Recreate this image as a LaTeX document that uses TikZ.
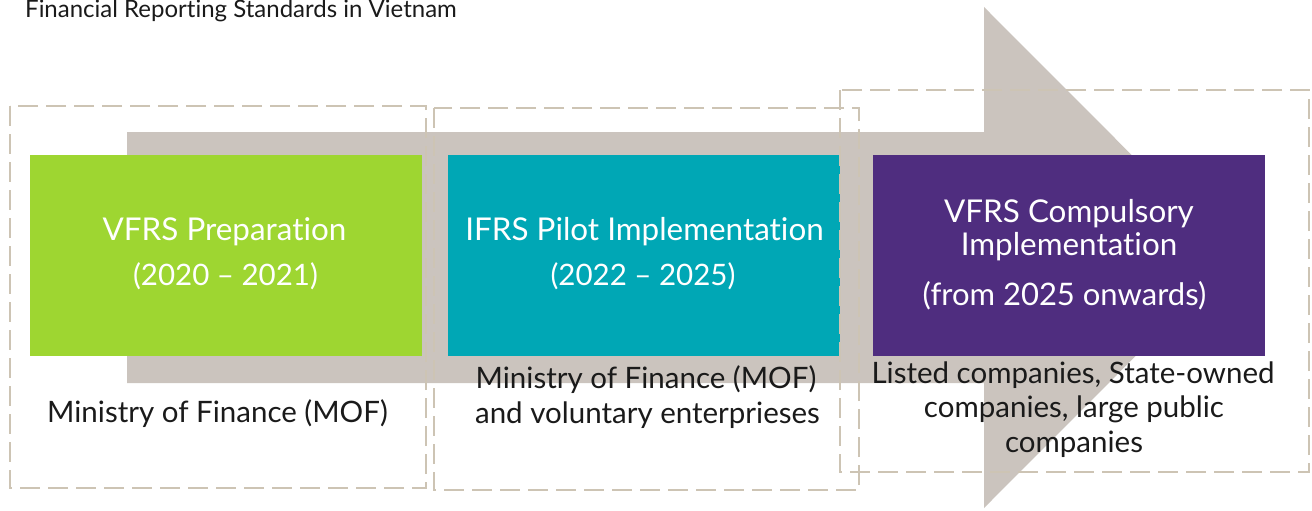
\documentclass[tikz,border=0pt]{standalone}
\usepackage{fontspec}
\setmainfont{Lato}[Ligatures=NoCommon]
\definecolor{gtgreen}{HTML}{9ED631}
\definecolor{gtteal}{HTML}{00A7B5}
\definecolor{gtpurple}{HTML}{4F2D7F}
\definecolor{arrowgray}{HTML}{CBC4BE}
\definecolor{dashbeige}{HTML}{CDC4B4}
\definecolor{bodytext}{HTML}{1A1A1A}
\begin{document}
\begin{tikzpicture}[x=1pt,y=-1pt,
  stagebox/.style={draw=none,minimum width=392pt,minimum height=201pt,inner sep=0pt},
  frame/.style={draw=dashbeige,line width=2.6pt,dash pattern=on 20pt off 8pt},
  titletext/.style={anchor=base,text=white,inner sep=0pt,font=\fontsize{31.4}{38}\selectfont},
  yeartext/.style={anchor=base,text=white,inner sep=0pt,font=\fontsize{29.5}{36}\selectfont},
  desctext/.style={anchor=base,text=bodytext,inner sep=0pt,font=\fontsize{29.5}{35}\selectfont}]
\useasboundingbox (0,0) rectangle (1312,511);
% big arrow
\fill[arrowgray] (127,132) -- (984,132) -- (984,7) -- (1234,257.5) -- (984,508) -- (984,383) -- (127,383) -- cycle;
% coloured stage boxes
\node[stagebox,fill=gtgreen] (b1) at (226,255.5) {};
\node[stagebox,fill=gtteal] (b2) at (644,255.5) {};
\node[stagebox,fill=gtpurple] (b3) at (1069,255.5) {};
% dashed frames
\draw[frame] (10,106) rectangle (426,488);
\draw[frame] (434,108) rectangle (859,490);
\draw[frame] (840,90) rectangle (1309,472);
% title
\node[anchor=base west,inner sep=0pt,text=bodytext,font=\fontsize{24}{29}\selectfont] (title) at (25,17.5) {Financial Reporting Standards in Vietnam};
% box texts
\node[titletext] (t1) at (224.5,240) {VFRS Preparation};
\node[yeartext] (y1) at (225.5,285) {(2020 – 2021)};
\node[titletext] (t2) at (644.5,240) {IFRS Pilot Implementation};
\node[yeartext] (y2) at (643,285) {(2022 – 2025)};
\node[titletext] (t3a) at (1069,222) {VFRS Compulsory};
\node[titletext] (t3b) at (1069,255) {Implementation};
\node[yeartext,font=\fontsize{31}{36}\selectfont] (y3) at (1064.5,305) {(from 2025 onwards)};
% descriptions
\node[desctext] (d1) at (217.5,422) {Ministry of Finance (MOF)};
\node[desctext] (d2a) at (646,388) {Ministry of Finance (MOF)};
\node[desctext] (d2b) at (647.5,423) {and voluntary enterprieses};
\node[desctext] (d3a) at (1073,383) {Listed companies, State-owned};
\node[desctext] (d3b) at (1074,417) {companies, large public};
\node[desctext] (d3c) at (1074,452) {companies};
\end{tikzpicture}
\end{document}
